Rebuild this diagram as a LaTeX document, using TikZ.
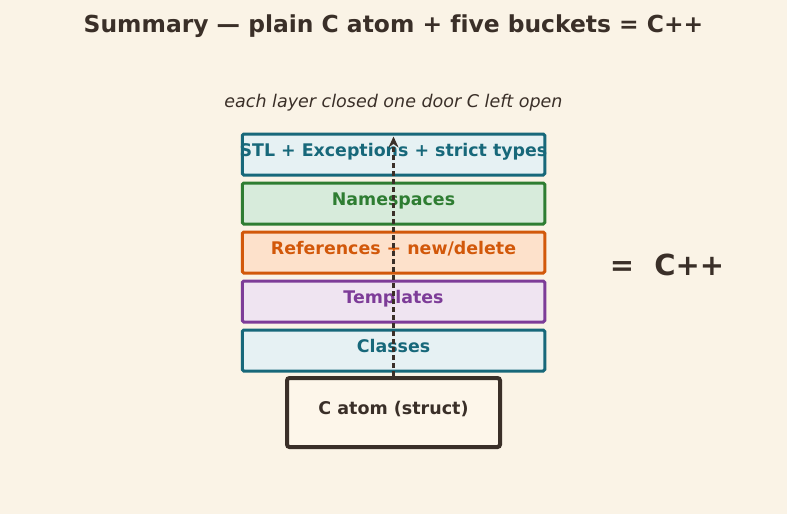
\documentclass[tikz,border=0pt]{standalone}
\usepackage{fontspec}
\setmainfont{DejaVu Sans}[Ligatures=NoCommon]
\usetikzlibrary{positioning,arrows.meta}

\definecolor{paper}{HTML}{FAF3E6}
\definecolor{ink}{HTML}{3A2F28}
\definecolor{tealline}{HTML}{17687A}
\definecolor{tealfill}{HTML}{E6F1F3}
\definecolor{greenline}{HTML}{2E7D32}
\definecolor{greenfill}{HTML}{D7EBDB}
\definecolor{orangeline}{HTML}{D2580A}
\definecolor{orangefill}{HTML}{FDE1CB}
\definecolor{purpleline}{HTML}{7D3C98}
\definecolor{purplefill}{HTML}{EFE4F1}
\definecolor{atomfill}{HTML}{FDF6EA}

\begin{document}
\begin{tikzpicture}[x=1pt,y=-1pt,node distance=5pt,>={Stealth[length=11pt,width=10pt]}]
        {

          \tikzstyle{layer}=[draw,line width=3pt,rounded corners=1.5pt,minimum width=302.5pt,minimum height=41pt,inner sep=0pt,inner xsep=-8pt,text height=12.5pt,text depth=8.5pt,font=\fontsize{17.4}{21}\selectfont\bfseries]
          \tikzstyle{atombox}=[draw=ink,line width=4pt,rounded corners=2.5pt,fill=atomfill,text=ink,minimum width=213pt,minimum height=69pt,inner sep=0pt,text height=12.5pt,text depth=8.5pt,font=\fontsize{17.5}{21}\selectfont\bfseries]
          \tikzstyle{texto}=[text=ink]

          \fill [paper] (0,0) rectangle (787,514);
          \useasboundingbox (0,0) rectangle (787,514);

          \begin{scope}

            \node [texto,font=\fontsize{23.4}{28}\selectfont\bfseries] (title) at (393.5,26) {Summary — plain C atom + five buckets = C++};
            \node [texto,font=\fontsize{17.5}{21}\selectfont\itshape] (sub) at (393.5,103) {each layer closed one door C left open};

            \node [layer,draw=tealline,fill=tealfill,text=tealline] (cls) at (393.5,350.5) {Classes};

            \node [layer,draw=purpleline,fill=purplefill,text=purpleline] (tpl) [above=of cls] {Templates};

            \node [layer,draw=orangeline,fill=orangefill,text=orangeline] (ref) [above=of tpl] {References + new/delete};

            \node [layer,draw=greenline,fill=greenfill,text=greenline] (nsp) [above=of ref] {Namespaces};

            \node [layer,draw=tealline,fill=tealfill,text=tealline] (stl) [above=of nsp] {STL + Exceptions + strict types};

            \node [atombox] (atom) [below=3.5pt of cls] {C atom (struct)};

            \draw [->,ink,line width=2.3pt,dash pattern=on 5pt off 3pt] (atom.north) -- ([yshift=-4pt]stl.north);

            \node [texto,font=\fontsize{29}{33}\selectfont\bfseries] (cpp) at (667,265) {=\ \ C++};

          \end{scope}
        }
\end{tikzpicture}
\end{document}
